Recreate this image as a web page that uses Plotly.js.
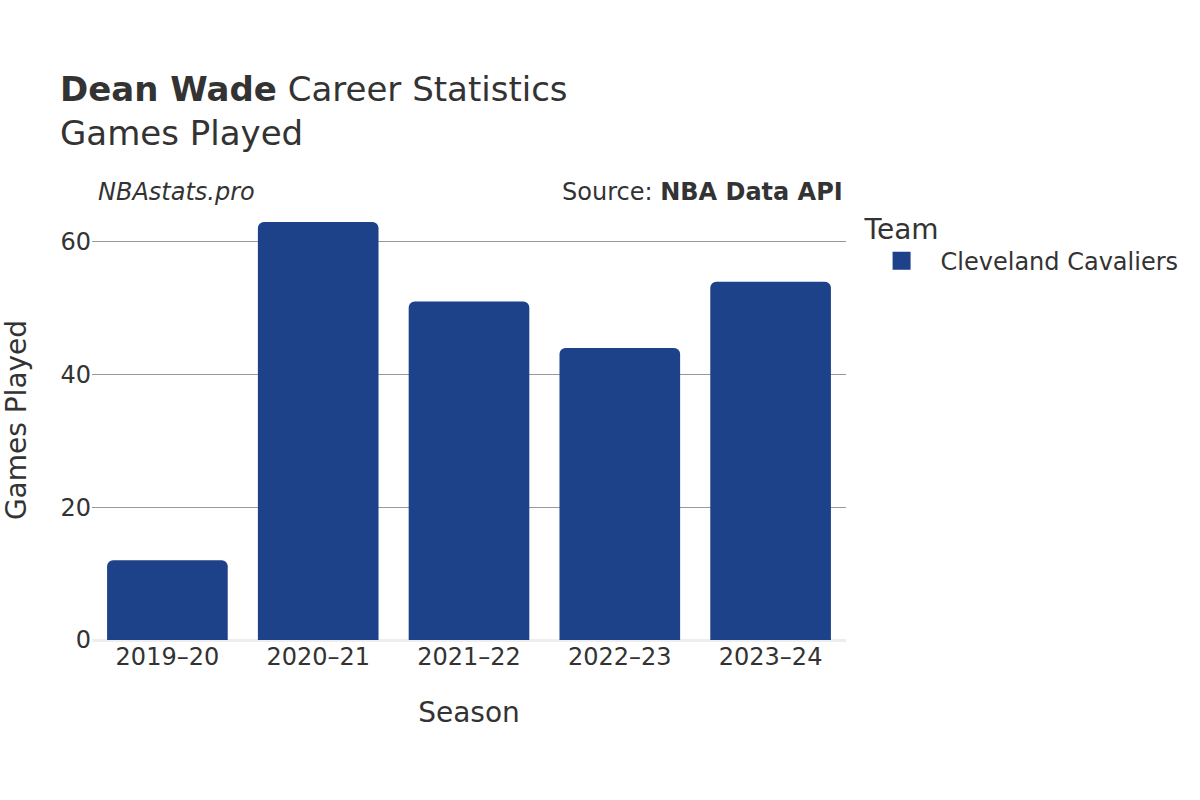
<!DOCTYPE html>
<html>
<head>
<meta charset="utf-8">
<script src="https://cdn.plot.ly/plotly-3.0.1.min.js"></script>
<style>html,body{margin:0;padding:0;background:#fff;}#chart{width:1200px;height:800px;}</style>
</head>
<body>
<div id="chart"></div>
<script>
const seasons = ["2019–20", "2020–21", "2021–22", "2022–23", "2023–24"];
const gamesPlayed = [12, 63, 51, 44, 54];
const teamName = "Cleveland Cavaliers";
const barColor = "#1d428a";

const font = "DejaVu Sans, Verdana, sans-serif";

const data = [
  {
    type: "bar",
    x: seasons,
    y: gamesPlayed,
    name: teamName,
    marker: {color: barColor},
    showlegend: false,
    hovertemplate: "%{x}: %{y}<extra></extra>"
  },
  {
    type: "scatter",
    mode: "markers",
    x: [null],
    y: [null],
    name: teamName,
    marker: {symbol: "square", size: 21, color: barColor, line: {color: barColor, width: 2}},
    showlegend: true,
    hoverinfo: "skip"
  }
];

const layout = {
  width: 1200,
  height: 800,
  paper_bgcolor: "#fff",
  plot_bgcolor: "#fff",
  font: {family: font, color: "#333", size: 20},
  margin: {l: 92, r: 354, t: 200, b: 160},
  barcornerradius: 6,
  bargap: 0.2,
  title: {
    text: "<b>Dean Wade</b> Career Statistics<br>Games Played",
    x: 0.05, xanchor: "left",
    y: 0.874, yanchor: "top",
    font: {family: font, size: 34, color: "#333"}
  },
  xaxis: {
    title: {text: "Season", font: {size: 28, color: "#333"}, standoff: 32},
    tickfont: {size: 24, color: "#333"},
    showgrid: false,
    ticks: "",
    type: "category"
  },
  yaxis: {
    title: {text: "Games Played", font: {size: 28, color: "#333"}, standoff: 28},
    tickfont: {size: 24, color: "#333"},
    range: [0, 66.3],
    tickvals: [0, 20, 40, 60],
    gridcolor: "#999",
    gridwidth: 1,
    zeroline: true,
    zerolinecolor: "#eee",
    zerolinewidth: 3,
    ticks: "",
    ticklen: 8,
    tickcolor: "#fff"
  },
  legend: {
    title: {text: "Team", font: {size: 28, color: "#333"}},
    font: {size: 24, color: "#333"},
    x: 1.022, xanchor: "left",
    y: 0.995, yanchor: "top",
    itemwidth: 68
  },
  showlegend: true,
  annotations: [
    {
      text: "<i>NBAstats.pro</i>",
      xref: "paper", yref: "paper",
      x: 0.005, y: 1.0, xanchor: "left", yanchor: "bottom",
      yshift: -8,
      showarrow: false,
      font: {size: 24, color: "#333", family: font}
    },
    {
      text: "Source: <b>NBA Data API</b>",
      xref: "paper", yref: "paper",
      x: 0.999, y: 1.0, xanchor: "right", yanchor: "bottom",
      yshift: -8,
      showarrow: false,
      font: {size: 24, color: "#333", family: font}
    }
  ]
};

Plotly.newPlot("chart", data, layout, {displayModeBar: false, staticPlot: true});
</script>
</body>
</html>
